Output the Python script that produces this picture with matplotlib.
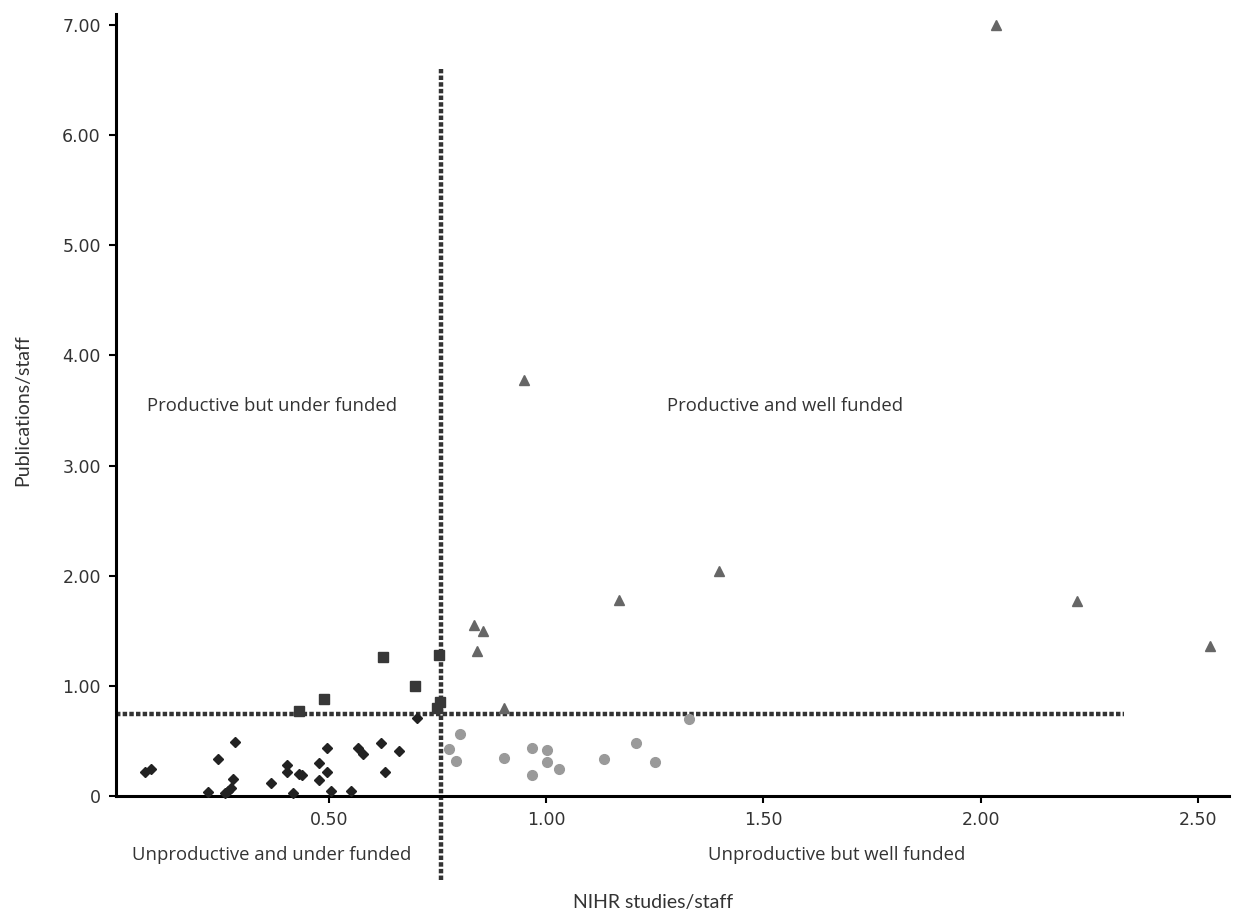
import matplotlib
matplotlib.use('Agg')
import matplotlib.pyplot as plt

# unproductive and under funded (diamonds)
diamond_x = [0.076, 0.090, 0.221, 0.244, 0.260, 0.267, 0.274, 0.278, 0.283, 0.366,
             0.403, 0.403, 0.417, 0.430, 0.437, 0.476, 0.476, 0.495, 0.495, 0.504,
             0.550, 0.566, 0.578, 0.619, 0.628, 0.661, 0.702]
diamond_y = [0.22, 0.25, 0.04, 0.34, 0.03, 0.05, 0.07, 0.16, 0.49, 0.12,
             0.28, 0.22, 0.03, 0.20, 0.19, 0.15, 0.30, 0.44, 0.22, 0.05,
             0.05, 0.44, 0.38, 0.48, 0.22, 0.41, 0.71]

# productive but under funded (squares)
square_x = [0.430, 0.488, 0.624, 0.697, 0.753, 0.748, 0.755]
square_y = [0.77, 0.88, 1.26, 1.00, 1.28, 0.80, 0.85]

# productive and well funded (triangles)
tri_x = [0.833, 0.854, 0.840, 0.902, 0.948, 1.167, 1.397, 2.035, 2.223, 2.529]
tri_y = [1.55, 1.50, 1.32, 0.80, 3.78, 1.78, 2.04, 7.00, 1.77, 1.36]

# unproductive but well funded (circles)
circ_x = [0.801, 0.776, 0.792, 0.902, 0.967, 1.001, 1.001, 0.967, 1.029, 1.132,
          1.206, 1.250, 1.328]
circ_y = [0.56, 0.43, 0.32, 0.35, 0.44, 0.42, 0.31, 0.19, 0.25, 0.34,
          0.48, 0.31, 0.70]

# quadrant divisions
x_split = 0.757
y_split = 0.745

x_ticks = [0.5, 1.0, 1.5, 2.0, 2.5]
x_tick_labels = ['0.50', '1.00', '1.50', '2.00', '2.50']
y_ticks = [0, 1, 2, 3, 4, 5, 6, 7]
y_tick_labels = ['0', '1.00', '2.00', '3.00', '4.00', '5.00', '6.00', '7.00']

plt.rcParams['font.family'] = ['Open Sans', 'DejaVu Sans']
txt_col = '#333333'

fig = plt.figure(figsize=(12.37, 9.13), dpi=100)
ax = fig.add_axes([0.0938, 0.128, 0.9, 0.857])

ax.set_xlim(0.009, 2.573)
ax.set_ylim(0, 7.1)

# dividing lines
ax.plot([x_split, x_split], [-0.76, 6.6], color='#333333', lw=3.2,
        ls=(0, (1, 0.5)), clip_on=False, zorder=2)
ax.plot([0.009, 2.33], [y_split, y_split], color='#333333', lw=3.2,
        ls=(0, (1, 0.5)), clip_on=False, zorder=2)

ax.plot(diamond_x, diamond_y, 'D', color='#222222', ms=5.5, clip_on=False, zorder=3)
ax.plot(square_x, square_y, 's', color='#383838', ms=7, clip_on=False, zorder=3)
ax.plot(tri_x, tri_y, '^', color='#666666', ms=7.5, clip_on=False, zorder=3)
ax.plot(circ_x, circ_y, 'o', color='#9a9a9a', ms=7, clip_on=False, zorder=3)

# quadrant labels
fs = 13.3
ax.text(0.081, 3.54, 'Productive but under funded', fontsize=fs, color=txt_col, va='center')
ax.text(1.277, 3.54, 'Productive and well funded', fontsize=fs, color=txt_col, va='center')
ax.text(0.046, -0.53, 'Unproductive and under funded', fontsize=fs, color=txt_col,
        va='center', clip_on=False)
ax.text(1.372, -0.53, 'Unproductive but well funded', fontsize=fs, color=txt_col,
        va='center', clip_on=False)

ax.set_xticks(x_ticks)
ax.set_xticklabels(x_tick_labels)
ax.set_yticks(y_ticks)
ax.set_yticklabels(y_tick_labels)
ax.tick_params(axis='both', direction='out', length=5, width=1.5,
               labelsize=12.5, labelcolor=txt_col, pad=6)
for lab in ax.get_xticklabels() + ax.get_yticklabels():
    lab.set_family('DejaVu Sans')

for s in ['top', 'right']:
    ax.spines[s].set_visible(False)
for s in ['left', 'bottom']:
    ax.spines[s].set_linewidth(2.2)

fig.text(0.528, 0.006, 'NIHR studies/staff', fontsize=14, color=txt_col, ha='center',
         family='Lato')
fig.text(0.018, 0.551, 'Publications/staff', fontsize=14, color=txt_col,
         rotation=90, va='center', ha='center', family='Lato')

fig.savefig('out.png', dpi=100)
